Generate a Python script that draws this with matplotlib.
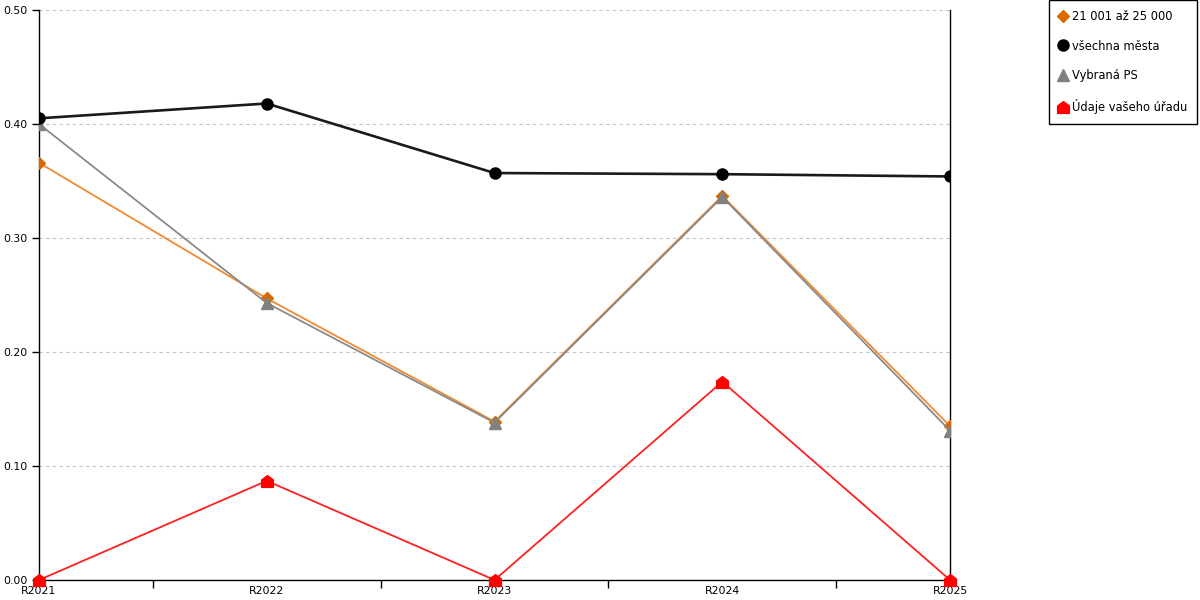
import numpy as np
import matplotlib.pyplot as plt
from matplotlib.path import Path

years = ['R2021', 'R2022', 'R2023', 'R2024', 'R2025']
kat = [0.366, 0.247, 0.139, 0.337, 0.135]        # 21 001 až 25 000
vsechna = [0.405, 0.418, 0.357, 0.356, 0.354]    # všechna města
vybrana = [0.400, 0.243, 0.138, 0.336, 0.131]    # Vybraná PS
urad = [0.0, 0.087, 0.0, 0.174, 0.0]             # Údaje vašeho úřadu

plt.rcParams['font.family'] = ['DejaVu Sans']

# house-shaped marker
house = Path([(-1, -1), (1, -1), (1, 0.25), (0, 1), (-1, 0.25), (-1, -1)],
             [Path.MOVETO] + [Path.LINETO] * 4 + [Path.CLOSEPOLY])

fig = plt.figure(figsize=(12, 6), dpi=100)
ax = fig.add_axes([0.0325, 0.0333, 0.7592, 0.95])

x = np.arange(len(years))
ax.plot(x, kat, color='#f08a30', lw=1.3, marker='D', ms=6, mfc='#d96a00', mec='#d96a00',
        label='21 001 až 25 000', zorder=3)
ax.plot(x, vybrana, color='#8a8a8a', lw=1.3, marker='^', ms=8, mfc='#808080', mec='#808080',
        label='Vybraná PS', zorder=3)
ax.plot(x, vsechna, color='#1a1a1a', lw=1.9, marker='o', ms=8, mfc='black', mec='black',
        label='všechna města', zorder=4)
ax.plot(x, urad, color='#ff2020', lw=1.3, marker=house, ms=8.5, mfc='red', mec='red',
        label='Údaje vašeho úřadu', zorder=5, clip_on=False)

ax.set_xlim(0, 4)
ax.set_ylim(0, 0.5)
ax.set_xticks(x)
ax.set_xticklabels(years)
ax.set_xticks(x[:-1] + 0.5, minor=True)
ax.set_yticks(np.arange(0, 0.51, 0.1))
ax.set_yticklabels(['%.2f' % v for v in np.arange(0, 0.51, 0.1)])
ax.tick_params(axis='both', which='both', direction='out', length=5, width=1,
               labelsize=7.8, pad=3)
ax.tick_params(axis='x', which='major', length=0, pad=4)
ax.tick_params(axis='x', which='minor', length=6)

for v in np.arange(0.1, 0.51, 0.1):
    ax.axhline(v, color='#c4c4c4', lw=0.8, ls=(0, (3, 3)), zorder=1)

ax.spines['top'].set_visible(False)
for s in ['left', 'bottom', 'right']:
    ax.spines[s].set_color('black')
    ax.spines[s].set_linewidth(1)

handles, labels = ax.get_legend_handles_labels()
order = [0, 2, 1, 3]
leg = fig.legend([handles[i] for i in order], [labels[i] for i in order],
                 loc='upper right', bbox_to_anchor=(1197 / 1200, 1.0), fontsize=8.3,
                 frameon=True, fancybox=False, edgecolor='black', framealpha=1,
                 handlelength=0.7, handletextpad=0.4, labelspacing=1.45,
                 borderpad=0.85, borderaxespad=0)
for h in leg.legend_handles:
    h.set_linestyle('None')
leg.get_frame().set_linewidth(1)

fig.savefig('out.png', dpi=100)
